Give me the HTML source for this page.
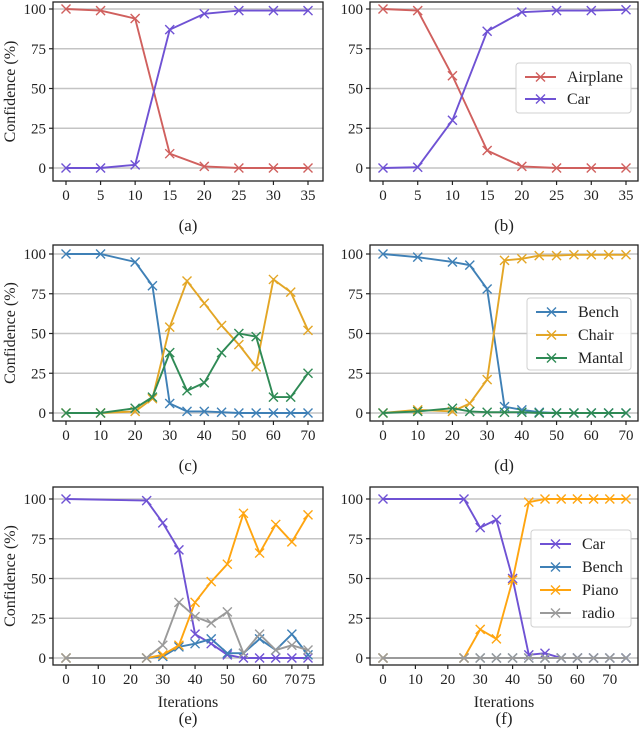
<!DOCTYPE html>
<html><head><meta charset="utf-8"><style>
body{margin:0;background:#fff}
svg text{font-family:"Liberation Serif",serif;fill:#222}
</style></head><body>
<svg id="fig" width="640" height="731" xmlns="http://www.w3.org/2000/svg"></svg>
<script>
const xA=[0,5,10,15,20,25,30,35];
const airplaneA=[100,99,94,9,1,0,0,0];
const carA=[0,0,2,87,97,99,99,99];
const airplaneB=[100,99,58,11,1,0,0,0];
const carB=[0,0.5,30,86,98,99,99,99.5];
const xC=[0,10,20,25,30,35,40,45,50,55,60,65,70];
const benchC=[100,100,95,80,6,1,1,0.5,0,0,0,0,0];
const chairC=[0,0,1,9,54,83,69,55,43,29,84,76,52];
const mantalC=[0,0,3,10,38,14,19,38,50,48,10,10,25];
const benchD=[100,98,95,93,78,4,2,0.5,0,0,0,0,0];
const chairD=[0,2,1,6,21,96,97,99,99,99.5,99.5,99.5,99.5];
const mantalD=[0,1,3,1,0.5,0.5,0.5,0,0,0,0,0,0];
const xE=[0,25,30,35,40,45,50,55,60,65,70,75];
const carE=[100,99,85,68,15,9,2,0,0,0,0,0];
const benchE=[0,0,1,7,9,12,3,3,12,5,15,2];
const pianoE=[0,0,2,8,35,48,59,91,66,84,73,90];
const radioE=[0,0,8,35,26,22,29,3,15,5,8,5];
const carF=[100,100,82,87,50,2,3,0,0,0,0,0];
const benchF=[0,0,0,0,0,0,0,0,0,0,0,0];
const pianoF=[0,0,18,12,49,98,100,100,100,100,100,100];
const radioF=[0,0,0,0,0,0,0,0,0,0,0,0];
const yTicks=[0,25,50,75,100];
const xTicksA=[0,5,10,15,20,25,30,35];
const xTicksC=[0,10,20,30,40,50,60,70];
const xTicksE=[0,10,20,30,40,50,60,70,75];
const xTicksF=[0,10,20,30,40,50,60,70];

const RED='#d0605e',PUR='#6f52d4',BLU='#3f80b6',GOLD='#e3a626',GRN='#2f8a55',ORG='#ffa510',GRY='#9a9a9a';
const NS='http://www.w3.org/2000/svg';
const svg=document.getElementById('fig');
function mk(tag,at,parent){const e=document.createElementNS(NS,tag);for(const k in at)e.setAttribute(k,at[k]);(parent||svg).appendChild(e);return e;}

function panel(o){
  const g=mk('g',{});
  
  
  const sx=v=>o.x0+(v-o.xmin)/(o.xmax-o.xmin)*(o.x1-o.x0);
  const sy=v=>o.y0+(v)/100*(o.y100-o.y0);
  yTicks.forEach(t=>{
    const l=mk('line',{x1:o.bl,x2:o.br,y1:sy(t),y2:sy(t),stroke:'#c4c4c4','stroke-width':1.4},g);
    
    
    mk('line',{x1:o.bl-4,x2:o.bl,y1:sy(t),y2:sy(t),stroke:'#222','stroke-width':1.2},g);
    const tx=mk('text',{x:o.bl-7,y:sy(t)+5,'text-anchor':'end','font-size':15},g);
    tx.textContent=t;
    
    
  });
  o.xt.forEach(t=>{
    mk('line',{x1:sx(t),x2:sx(t),y1:o.bb,y2:o.bb+4,stroke:'#222','stroke-width':1.2},g);
    const tx=mk('text',{x:sx(t),y:o.bb+19,'text-anchor':'middle','font-size':15},g);
    tx.textContent=t;
    
    
  });
  o.series.forEach(s=>{
    const pts=o.xs.map((x,i)=>sx(x)+','+sy(s.v[i])).join(' ');
    const pl=mk('polyline',{points:pts,fill:'none',stroke:s.c,'stroke-width':1.9},g);
    
    
    o.xs.forEach((x,i)=>{
      const cx=sx(x),cy=sy(s.v[i]),r=4.5;
      mk('path',{d:`M${cx-r},${cy-r}L${cx+r},${cy+r}M${cx-r},${cy+r}L${cx+r},${cy-r}`,stroke:s.c,'stroke-width':1.4},g);
    });
  });
  const fr=mk('rect',{x:o.bl,y:o.bt,width:o.br-o.bl,height:o.bb-o.bt,fill:'none',stroke:'#222','stroke-width':1.3},g);
  
  
  if(o.ylab){
    const t=mk('text',{x:0,y:0,'text-anchor':'middle','font-size':16,transform:`translate(15,${(o.bt+o.bb)/2}) rotate(-90)`},g);
    t.textContent='Confidence (%)';
    
    
  }
  if(o.xlab){
    const t=mk('text',{x:(o.bl+o.br)/2,y:o.bb+42,'text-anchor':'middle','font-size':16},g);
    t.textContent='Iterations';
    
    
  }
  const c=mk('text',{x:(o.bl+o.br)/2,y:o.cap,'text-anchor':'middle','font-size':17},g);
  c.textContent='('+o.id+')';
  
  
  if(o.leg){
    const L=o.leg;
    const lg=mk('g',{},g);
    
    
    mk('rect',{x:L.x,y:L.y,width:L.w,height:L.h,rx:3,fill:'#fff','fill-opacity':0.9,stroke:'#d0d0d0'},lg);
    o.series.forEach((s,i)=>{
      const yy=L.y+14+i*L.dy;
      const e=mk('g',{},lg);
      
      
      mk('line',{x1:L.x+9,x2:L.x+40,y1:yy,y2:yy,stroke:s.c,'stroke-width':1.9},e);
      const cx=L.x+24.5,r=4.5;
      mk('path',{d:`M${cx-r},${yy-r}L${cx+r},${yy+r}M${cx-r},${yy+r}L${cx+r},${yy-r}`,stroke:s.c,'stroke-width':1.4},e);
      const t=mk('text',{x:L.x+51,y:yy+5,'font-size':16},e);
      t.textContent=s.n;
    });
  }
}
const L={bl:53,br:323,x0:66,x1:308},R={bl:370,br:638,x0:383,x1:626};
const row1={bt:2,bb:181,y0:168,y100:9,cap:231};
const row2={bt:245,bb:421,y0:413,y100:254,cap:471};
const row3={bt:487,bb:665,y0:658,y100:499,cap:724};
panel({id:'a',...L,...row1,xmin:0,xmax:35,xs:xA,xt:xTicksA,ylab:1,series:[{n:'Airplane',c:RED,v:airplaneA},{n:'Car',c:PUR,v:carA}]});
panel({id:'b',...R,...row1,xmin:0,xmax:35,xs:xA,xt:xTicksA,series:[{n:'Airplane',c:RED,v:airplaneB},{n:'Car',c:PUR,v:carB}],leg:{x:516,y:63,w:115,h:50,dy:22}});
panel({id:'c',...L,...row2,xmin:0,xmax:70,xs:xC,xt:xTicksC,ylab:1,series:[{n:'Bench',c:BLU,v:benchC},{n:'Chair',c:GOLD,v:chairC},{n:'Mantal',c:GRN,v:mantalC}]});
panel({id:'d',...R,...row2,xmin:0,xmax:70,xs:xC,xt:xTicksC,series:[{n:'Bench',c:BLU,v:benchD},{n:'Chair',c:GOLD,v:chairD},{n:'Mantal',c:GRN,v:mantalD}],leg:{x:527,y:298,w:104,h:72,dy:23}});
panel({id:'e',...L,...row3,xmin:0,xmax:75,xs:xE,xt:xTicksE,ylab:1,xlab:1,series:[{n:'Car',c:PUR,v:carE},{n:'Bench',c:BLU,v:benchE},{n:'Piano',c:ORG,v:pianoE},{n:'radio',c:GRY,v:radioE}]});
panel({id:'f',...R,...row3,xmin:0,xmax:75,xs:xE,xt:xTicksF,xlab:1,series:[{n:'Car',c:PUR,v:carF},{n:'Bench',c:BLU,v:benchF},{n:'Piano',c:ORG,v:pianoF},{n:'radio',c:GRY,v:radioF}],leg:{x:531,y:530,w:100,h:97,dy:23}});
</script>
</body></html>
